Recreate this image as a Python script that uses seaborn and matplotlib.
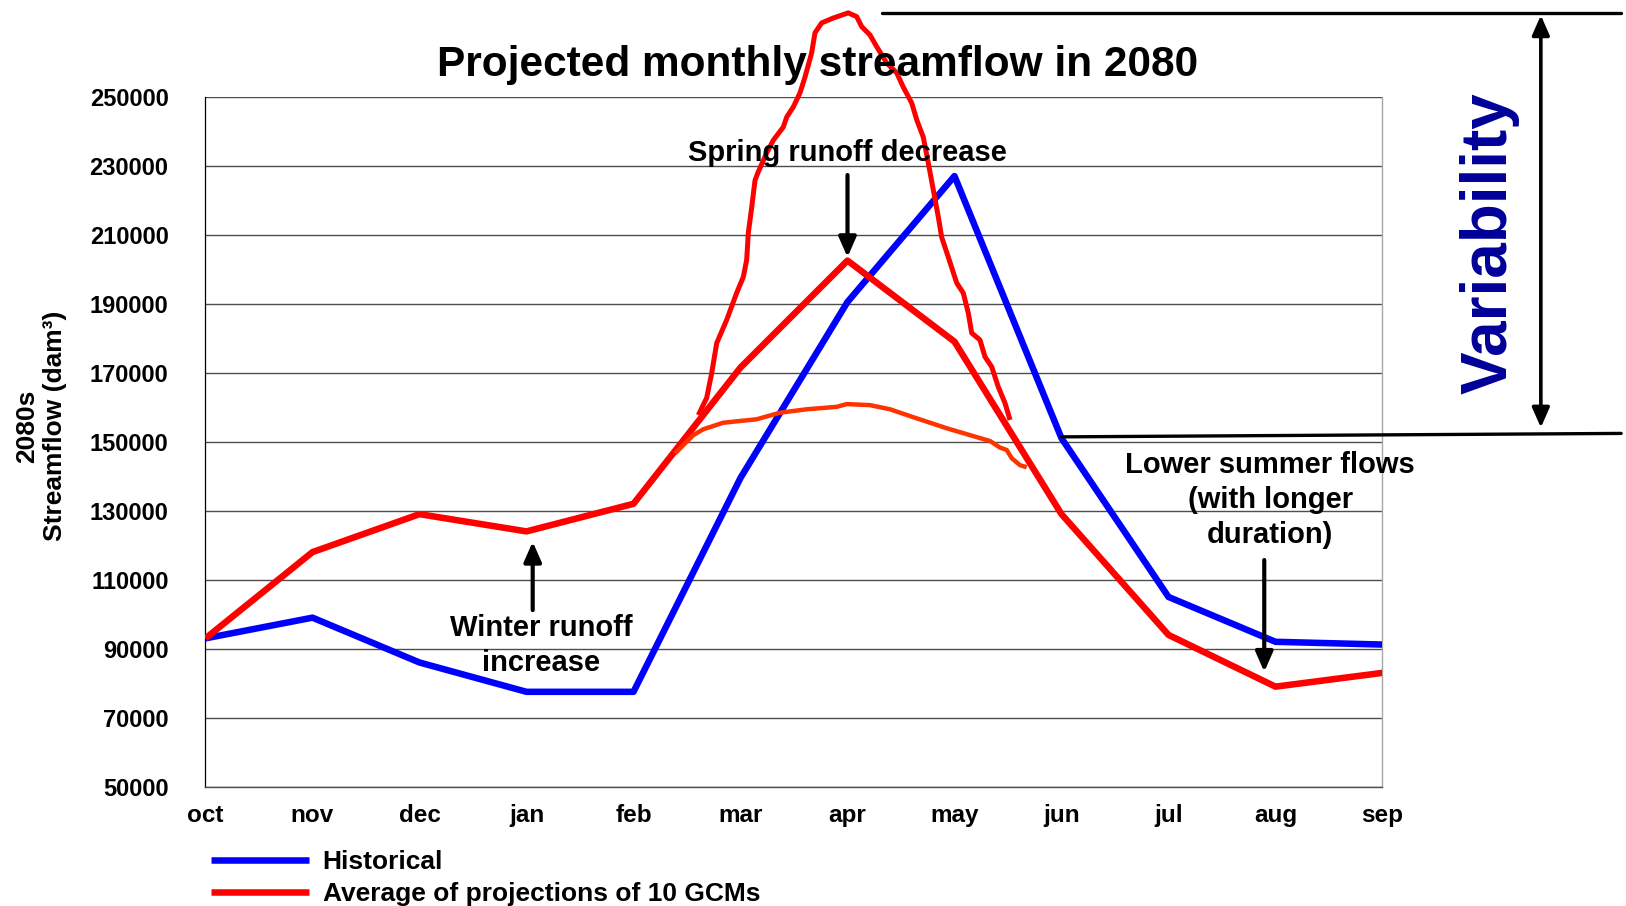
import numpy as np
import pandas as pd
import matplotlib
matplotlib.use("Agg")
import matplotlib.pyplot as plt
import seaborn as sns

# Monthly streamflow (dam^3), water year oct -> sep
months = ["oct", "nov", "dec", "jan", "feb", "mar", "apr", "may", "jun", "jul", "aug", "sep"]
historical = [93000, 99000, 86000, 77500, 77500, 139500, 190500, 227000, 151000, 105000, 92000, 91200]
gcm_average = [93000, 118000, 129000, 124000, 132000, 171500, 202500, 179000, 129000, 94000, 79000, 83000]

# Spread of the individual GCM runs around the spring freshet (fractional month position)
upper_pos = [4.606, 4.684, 4.731, 4.778, 4.871, 4.964, 5.026, 5.058, 5.073, 5.105, 5.136, 5.166,
             5.245, 5.307, 5.400, 5.432, 5.493, 5.556, 5.603, 5.665, 5.696, 5.759, 5.867, 6.007,
             6.086, 6.133, 6.210, 6.273, 6.366, 6.460, 6.521, 6.600, 6.647, 6.708, 6.755, 6.802,
             6.849, 6.880, 6.942, 7.021, 7.082, 7.129, 7.161, 7.238, 7.285, 7.348, 7.409, 7.472, 7.519]
upper_val = [157700, 162700, 169900, 178600, 185300, 193100, 197700, 202700, 210500, 218000, 225800, 228200,
             233700, 237400, 241200, 244100, 247000, 251100, 255700, 262700, 268500, 271400, 272800, 274300,
             273200, 270300, 267900, 264500, 259800, 256900, 252800, 248200, 243300, 238300, 230800, 223000,
             215100, 209300, 203500, 196000, 193100, 187300, 181500, 179500, 174600, 171700, 165900, 161200, 156300]
lower_pos = [4.388, 4.465, 4.559, 4.652, 4.839, 5.151, 5.369, 5.619, 5.899, 5.993, 6.210,
             6.397, 6.615, 6.927, 7.145, 7.332, 7.425, 7.488, 7.535, 7.612, 7.675]
lower_val = [146600, 149000, 151900, 153600, 155500, 156500, 158400, 159400, 160100, 160900, 160600,
             159400, 157100, 153900, 151900, 150200, 148300, 147600, 145200, 143200, 142600]

y_ticks = list(range(50000, 250001, 20000))

sns.set_style("white")
plt.rcParams["font.family"] = ["Liberation Sans", "DejaVu Sans"]
plt.rcParams["font.weight"] = "bold"
plt.rcParams["text.color"] = "black"
plt.rcParams["xtick.color"] = "black"
plt.rcParams["ytick.color"] = "black"
plt.rcParams["axes.labelcolor"] = "black"

fig = plt.figure(figsize=(16.26, 9.06), dpi=100)
ax = fig.add_axes([0.12638, 0.13168, 0.72386, 0.76159])

pos = np.arange(len(months))
hist_df = pd.DataFrame({"pos": pos, "flow": historical})
gcm_df = pd.DataFrame({"pos": pos, "flow": gcm_average})
up_df = pd.DataFrame({"pos": upper_pos, "flow": upper_val})
lo_df = pd.DataFrame({"pos": lower_pos, "flow": lower_val})

common = dict(sort=False, estimator=None, solid_capstyle="butt", solid_joinstyle="round")
sns.lineplot(data=hist_df, x="pos", y="flow", color="#0000ff", lw=4.7,
             label="Historical", ax=ax, zorder=3, **common)
sns.lineplot(data=gcm_df, x="pos", y="flow", color="#ff0000", lw=4.7,
             label="Average of projections of 10 GCMs", ax=ax, zorder=4, **common)
sns.lineplot(data=lo_df, x="pos", y="flow", color="#ff3300", lw=3.2,
             legend=False, ax=ax, zorder=5, **common)
sns.lineplot(data=up_df, x="pos", y="flow", color="#ff0000", lw=3.6,
             legend=False, ax=ax, zorder=6, clip_on=False, **common)

handles, labels = ax.get_legend_handles_labels()
if ax.get_legend() is not None:
    ax.get_legend().remove()

# Axes styling
ax.set_xlim(0, len(months) - 1)
ax.set_ylim(y_ticks[0], y_ticks[-1])
ax.set_xticks(pos)
ax.set_xticklabels(months)
ax.set_yticks(y_ticks)
ax.set_yticklabels([str(v) for v in y_ticks])
ax.set_xlabel("")
ax.set_ylabel("")
ax.yaxis.grid(True, color="#4d4d4d", lw=1.0)
ax.xaxis.grid(False)
ax.set_axisbelow(True)
ax.spines["top"].set_visible(False)
ax.spines["right"].set_color("#a6a6a6")
ax.spines["right"].set_linewidth(1.0)
ax.spines["left"].set_color("black")
ax.spines["left"].set_linewidth(0.9)
ax.spines["bottom"].set_color("#4d4d4d")
ax.spines["bottom"].set_linewidth(1.0)
ax.tick_params(axis="both", direction="out", length=3.6, width=0.8, color="#404040",
               labelcolor="black")
ax.tick_params(axis="y", labelsize=17, pad=23)
ax.tick_params(axis="x", labelsize=17.5, pad=9)
for lab in ax.get_xticklabels() + ax.get_yticklabels():
    lab.set_fontweight("bold")

# Title and axis label
fig.text(0.5031, 1 - 76 / 906, "Projected monthly streamflow in 2080",
         ha="center", va="baseline", fontsize=30.5, fontweight="bold", color="black")
fig.text(41 / 1626, 1 - 426 / 906, "2080s\nStreamflow (dam³)", rotation=90,
         ha="center", va="center", multialignment="center", fontsize=19, fontweight="bold",
         color="black")

# Annotations
arrow = dict(arrowstyle="-|>,head_length=0.5,head_width=0.22", lw=3, color="black",
             mutation_scale=24, shrinkA=0, shrinkB=0)
ax.text(6, 231400, "Spring runoff decrease", ha="center", va="baseline",
        fontsize=21, fontweight="bold", color="black", zorder=7)
ax.annotate("", xy=(6, gcm_average[6] + 1000), xytext=(6, 227300), arrowprops=arrow, zorder=7)

ax.text(3.14, 90800, "Winter runoff\nincrease", ha="center", va="center",
        multialignment="center", linespacing=1.32, fontsize=21, fontweight="bold",
        color="black", zorder=7)
ax.annotate("", xy=(3.058, gcm_average[3] - 3000), xytext=(3.058, 101200), arrowprops=arrow, zorder=7)

ax.text(9.95, 133100, "Lower summer flows\n(with longer\nduration)", ha="center", va="center",
        multialignment="center", linespacing=1.32, fontsize=21, fontweight="bold",
        color="black", zorder=7)
ax.annotate("", xy=(9.895, gcm_average[10] + 4300), xytext=(9.895, 115700), arrowprops=arrow, zorder=7)

# Range of the GCM spread against the historical peak
peak = max(upper_val)
ax.plot([6.327, 13.23], [peak, peak], color="black", lw=2.4, clip_on=False, zorder=7)
ax.plot([8.0, 13.23], [historical[8] + 400, historical[8] + 1400], color="black", lw=2.4,
        clip_on=False, zorder=7)
ax.annotate("", xy=(12.48, peak - 700), xytext=(12.48, historical[8] + 3100),
            arrowprops=dict(arrowstyle="<|-|>,head_length=0.5,head_width=0.22", lw=2.6,
                            color="black", mutation_scale=24, shrinkA=0, shrinkB=0),
            annotation_clip=False, zorder=7)
ax.text(12.0, 207600, "Variability", rotation=90, ha="center", va="center",
        fontsize=46, fontweight="bold", color="#000099", clip_on=False, zorder=7)

# Legend below the plot
fig.legend(handles, labels, loc="upper left", bbox_to_anchor=(210.5 / 1626, 1 - 850 / 906),
           frameon=False, handlelength=3.75, handletextpad=0.5, labelspacing=0.32,
           borderpad=0, borderaxespad=0, prop={"weight": "bold", "size": 19})

fig.savefig("out.png", dpi=100)
